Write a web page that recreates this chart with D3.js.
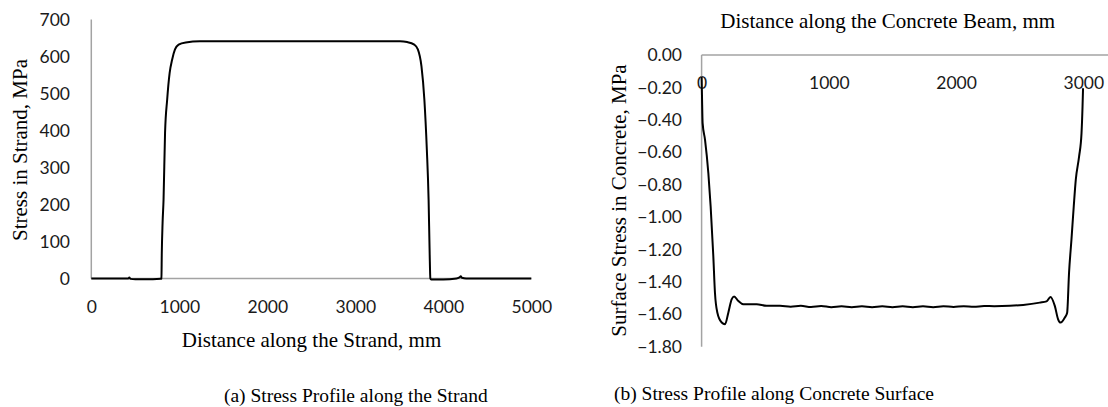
<!DOCTYPE html>
<html>
<head>
<meta charset="utf-8">
<script src="https://cdn.jsdelivr.net/npm/d3@7"></script>
<style>
  body { margin: 0; background: #fff; }
  .tick text { font-family: Lato, "Liberation Sans", sans-serif; font-size: 17.5px; fill: #1a1a1a; }
  .ttl { font-family: "Liberation Serif", "Times New Roman", serif; fill: #000; }
</style>
</head>
<body>
<div id="chart"></div>
<script>
// (a) stress in strand, [distance mm, MPa]
var strandX = [0, 300, 420, 432, 445, 500, 700, 790, 797, 801, 810, 821, 838, 862, 890, 919, 951, 992, 1073, 1235,
  2500, 3509, 3589, 3670, 3711, 3752, 3785, 3813, 3833, 3845, 3853, 3862, 4000, 4150, 4190, 4198, 4212, 4260, 5000];
var strandY = [0, 0, 0, 3, -1, -2, -2, -1, 0, 68, 150, 213, 393, 483, 555, 592, 619, 632, 638, 641,
  641, 641, 639, 632, 619, 573, 483, 348, 213, 68, 0, -3, -3, 0, 4, 6, 2, 0, 0];

// (b) surface stress in concrete, [distance mm, MPa]
var beamX = [0, 3, 8, 27, 53, 71, 92, 105, 124, 158, 184, 210, 236, 255, 289, 328, 433, 511, 616,
  700, 780, 860, 940, 1020, 1100, 1180, 1260, 1340, 1420, 1500, 1580, 1660, 1740, 1820, 1900, 1980, 2060, 2140, 2220,
  2300, 2423, 2527, 2658, 2711, 2742, 2776, 2802, 2821, 2855, 2873, 2888, 2907, 2925, 2941, 2967, 2986, 2994, 2998];
var beamY = [-0.133, -0.25, -0.42, -0.523, -0.728, -0.933, -1.24, -1.467, -1.59, -1.651, -1.662, -1.59, -1.508, -1.49, -1.518, -1.538, -1.538, -1.548, -1.548,
  -1.553, -1.548, -1.555, -1.549, -1.556, -1.550, -1.556, -1.550, -1.556, -1.550, -1.556, -1.550, -1.556, -1.550, -1.556, -1.550, -1.555, -1.550, -1.554, -1.549,
  -1.550, -1.548, -1.542, -1.528, -1.52, -1.493, -1.548, -1.631, -1.651, -1.62, -1.59, -1.343, -1.138, -0.933, -0.769, -0.626, -0.482, -0.318, -0.205];

var ticksA_x = [0, 1000, 2000, 3000, 4000, 5000];
var ticksA_y = [0, 100, 200, 300, 400, 500, 600, 700];
var ticksB_x = [0, 1000, 2000, 3000];
var ticksB_y = [0, -0.2, -0.4, -0.6, -0.8, -1.0, -1.2, -1.4, -1.6, -1.8];

var svg = d3.select("#chart").append("svg")
    .attr("width", 1108)
    .attr("height", 407);

var axisColor = "#a3a3a3";

//---------- chart (a)
var xA = d3.scaleLinear().domain([0, 5000]).range([91.3, 531.3]);
var yA = d3.scaleLinear().domain([0, 700]).range([278.5, 19.5]);

var gA = svg.append("g");

gA.append("g")
    .attr("transform", "translate(0," + yA(0) + ")")
    .call(d3.axisBottom(xA).tickValues(ticksA_x).tickSize(0).tickPadding(22).tickFormat(d3.format("d")))
    .call(function (g) { g.select(".domain").remove(); });

gA.append("g")
    .attr("transform", "translate(" + xA(0) + ",0)")
    .call(d3.axisLeft(yA).tickValues(ticksA_y).tickSize(0).tickPadding(21.3).tickFormat(d3.format("d")))
    .call(function (g) { g.select(".domain").remove(); });

gA.append("line")
    .attr("x1", xA(0)).attr("x2", xA(5000))
    .attr("y1", yA(0)).attr("y2", yA(0))
    .attr("stroke", axisColor).attr("stroke-width", 1.5);
gA.append("line")
    .attr("x1", xA(0)).attr("x2", xA(0))
    .attr("y1", yA(700)).attr("y2", yA(0))
    .attr("stroke", axisColor).attr("stroke-width", 1.5);

var lineA = d3.line()
    .x(function (d, i) { return xA(strandX[i]); })
    .y(function (d, i) { return yA(strandY[i]); })
    .curve(d3.curveMonotoneX);

gA.append("path")
    .attr("d", lineA(strandX))
    .attr("fill", "none")
    .attr("stroke", "#000")
    .attr("stroke-width", 2);

gA.append("text").attr("class", "ttl")
    .attr("x", 311.5).attr("y", 347)
    .attr("text-anchor", "middle")
    .style("font-size", "21px")
    .text("Distance along the Strand, mm");

gA.append("text").attr("class", "ttl")
    .attr("transform", "translate(27,150) rotate(-90)")
    .attr("text-anchor", "middle")
    .style("font-size", "21px")
    .text("Stress in Strand, MPa");

svg.append("text").attr("class", "ttl")
    .attr("x", 355.8).attr("y", 402)
    .attr("text-anchor", "middle")
    .style("font-size", "19.5px")
    .text("(a) Stress Profile along the Strand");

//---------- chart (b)
var xB = d3.scaleLinear().domain([0, 3000]).range([701.6, 1083.3]);
var yB = d3.scaleLinear().domain([-1.8, 0]).range([346.7, 55]);

var gB = svg.append("g");

gB.append("g")
    .attr("transform", "translate(0," + yB(0) + ")")
    .call(d3.axisBottom(xB).tickValues(ticksB_x).tickSize(0).tickPadding(21.8).tickFormat(d3.format("d")))
    .call(function (g) { g.select(".domain").remove(); });

gB.append("g")
    .attr("transform", "translate(" + xB(0) + ",0)")
    .call(d3.axisLeft(yB).tickValues(ticksB_y).tickSize(0).tickPadding(19.6).tickFormat(d3.format(".2f")))
    .call(function (g) { g.select(".domain").remove(); });

gB.append("line")
    .attr("x1", xB(0)).attr("x2", 1108)
    .attr("y1", yB(0)).attr("y2", yB(0))
    .attr("stroke", axisColor).attr("stroke-width", 1.5);
gB.append("line")
    .attr("x1", xB(0)).attr("x2", xB(0))
    .attr("y1", yB(0)).attr("y2", yB(-1.8))
    .attr("stroke", axisColor).attr("stroke-width", 1.5);

var lineB = d3.line()
    .x(function (d, i) { return xB(beamX[i]); })
    .y(function (d, i) { return yB(beamY[i]); })
    .curve(d3.curveMonotoneX);

gB.append("path")
    .attr("d", lineB(beamX))
    .attr("fill", "none")
    .attr("stroke", "#000")
    .attr("stroke-width", 2);

gB.append("text").attr("class", "ttl")
    .attr("x", 887.7).attr("y", 28)
    .attr("text-anchor", "middle")
    .style("font-size", "21px")
    .text("Distance along the Concrete Beam, mm");

gB.append("text").attr("class", "ttl")
    .attr("transform", "translate(626,200.5) rotate(-90)")
    .attr("text-anchor", "middle")
    .style("font-size", "21px")
    .text("Surface Stress in Concrete, MPa");

svg.append("text").attr("class", "ttl")
    .attr("x", 774).attr("y", 400)
    .attr("text-anchor", "middle")
    .style("font-size", "19.5px")
    .text("(b) Stress Profile along Concrete Surface");
</script>
</body>
</html>
